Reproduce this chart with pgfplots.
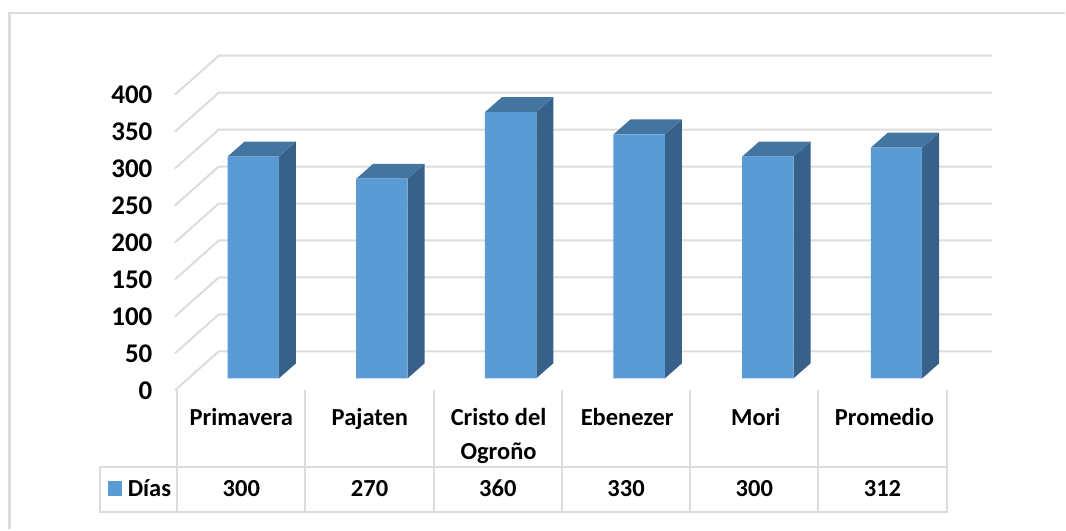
\documentclass[border=0pt]{standalone}
\usepackage{fontspec}
\setmainfont{Carlito}
\usepackage{pgfplots}
\pgfplotsset{compat=1.18}
\definecolor{gridc}{HTML}{DCDCDC}
\definecolor{barfront}{HTML}{5B9BD5}
\definecolor{bartop}{HTML}{4475A1}
\definecolor{barside}{HTML}{376189}
\newcommand{\tablefont}{\fontsize{24.5}{34}\selectfont\bfseries}
\begin{document}
\begin{tikzpicture}
% the axis box is the whole page, 1pt = 1px of the reference
\begin{axis}[
    scale only axis,
    width=1066pt,
    height=530pt,
    xmin=-1.968, xmax=6.308,
    ymin=-204.5, ymax=511.7,
    no marks,
    axis line style={draw=none},
    major tick length=0pt,
    xtick={0,1,2,3,4,5},
    xticklabels={Primavera,Pajaten,{Cristo del\\Ogroño},Ebenezer,Mori,Promedio},
    xticklabel style={font=\tablefont, align=center, anchor=north, xshift=-12pt, yshift=125pt},
    ytick={0,50,100,150,200,250,300,350,400},
    yticklabel style={font=\fontsize{27}{30}\selectfont\bfseries, anchor=east, xshift=156pt, yshift=-12.5pt,
        /pgf/number format/assume math mode=true},
]
% walls: gridlines from the front edge to the back wall and along it
\addplot[gridc, line width=2pt] coordinates {(-0.609,-16.2) (-0.268,36.5) (5.741,36.5)};
\addplot[gridc, line width=2pt] coordinates {(-0.609,33.8) (-0.268,86.5) (5.741,86.5)};
\addplot[gridc, line width=2pt] coordinates {(-0.609,83.8) (-0.268,136.5) (5.741,136.5)};
\addplot[gridc, line width=2pt] coordinates {(-0.609,133.8) (-0.268,186.5) (5.741,186.5)};
\addplot[gridc, line width=2pt] coordinates {(-0.609,183.8) (-0.268,236.5) (5.741,236.5)};
\addplot[gridc, line width=2pt] coordinates {(-0.609,233.8) (-0.268,286.5) (5.741,286.5)};
\addplot[gridc, line width=2pt] coordinates {(-0.609,283.8) (-0.268,336.5) (5.741,336.5)};
\addplot[gridc, line width=2pt] coordinates {(-0.609,333.8) (-0.268,386.5) (5.741,386.5)};
\addplot[gridc, line width=2pt] coordinates {(-0.609,383.8) (-0.268,436.5) (5.741,436.5)};
% side faces
\addplot[fill=barside, draw=none] coordinates {(0.2,0) (0.332,20.27) (0.332,320.27) (0.2,300)} --cycle;
\addplot[fill=barside, draw=none] coordinates {(1.2,0) (1.332,20.27) (1.332,290.27) (1.2,270)} --cycle;
\addplot[fill=barside, draw=none] coordinates {(2.2,0) (2.332,20.27) (2.332,380.27) (2.2,360)} --cycle;
\addplot[fill=barside, draw=none] coordinates {(3.2,0) (3.332,20.27) (3.332,350.27) (3.2,330)} --cycle;
\addplot[fill=barside, draw=none] coordinates {(4.2,0) (4.332,20.27) (4.332,320.27) (4.2,300)} --cycle;
\addplot[fill=barside, draw=none] coordinates {(5.2,0) (5.332,20.27) (5.332,332.27) (5.2,312)} --cycle;
% top faces
\addplot[fill=bartop, draw=none] coordinates {(-0.2,300) (0.2,300) (0.332,320.27) (-0.068,320.27)} --cycle;
\addplot[fill=bartop, draw=none] coordinates {(0.8,270) (1.2,270) (1.332,290.27) (0.932,290.27)} --cycle;
\addplot[fill=bartop, draw=none] coordinates {(1.8,360) (2.2,360) (2.332,380.27) (1.932,380.27)} --cycle;
\addplot[fill=bartop, draw=none] coordinates {(2.8,330) (3.2,330) (3.332,350.27) (2.932,350.27)} --cycle;
\addplot[fill=bartop, draw=none] coordinates {(3.8,300) (4.2,300) (4.332,320.27) (3.932,320.27)} --cycle;
\addplot[fill=bartop, draw=none] coordinates {(4.8,312) (5.2,312) (5.332,332.27) (4.932,332.27)} --cycle;
% front faces
\addplot[ybar, bar width=0.4, bar shift=0pt, fill=barfront, draw=none]
    coordinates {(0,300) (1,270) (2,360) (3,330) (4,300) (5,312)};
\end{axis}
% frame and data table, in reference pixels
\begin{scope}[x=1pt, y=-1pt, yshift=530pt]
\draw[gridc, line width=2.4pt] (9.5,530) -- (9.5,13) -- (1066,13);
\draw[gridc, line width=2pt] (100,467) -- (947.7,467) -- (947.7,390);
\draw[gridc, line width=2pt] (947.7,467) -- (947.7,512.3) -- (100,512.3) -- (100,467);
\foreach \x in {177.3,305.7,434.1,562.5,690.9,819.3}
    \draw[gridc, line width=2pt] (\x,390) -- (\x,512.3);
\fill[barfront] (108,481) rectangle (122.5,496.7);
\node[font=\tablefont, anchor=base] at (149.5,497.5) {Días};
\foreach \x/\v in {241.5/300,369.9/270,498.3/360,626.7/330,755.1/300,883.5/312}
    \node[font=\tablefont, anchor=base] at (\x,497.5) {\v};
\end{scope}
\end{tikzpicture}
\end{document}
